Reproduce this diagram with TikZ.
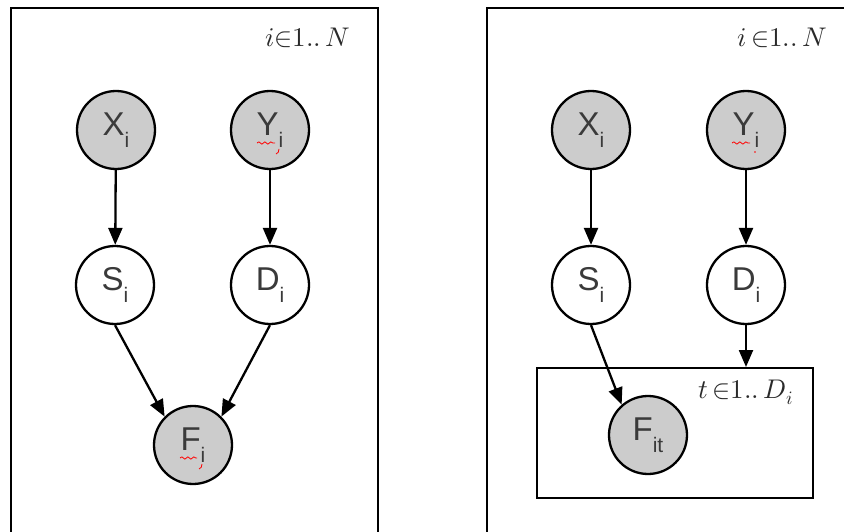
\documentclass[tikz,border=0pt]{standalone}
\usepackage{fontspec}
\usepackage{unicode-math}
\setmainfont{Liberation Sans}
\setmathfont{Latin Modern Math}
\usetikzlibrary{arrows.meta,decorations.pathmorphing}
\definecolor{txt}{HTML}{3A3A3A}
\definecolor{lbl}{HTML}{2A2A2A}
\definecolor{obsfill}{HTML}{CCCCCC}
\newcommand\lowsub[1]{\raisebox{-0.36em}{\fontsize{21}{24}\selectfont #1}}
\begin{document}
\begin{tikzpicture}[x=1pt,y=-1pt,
  var/.style={circle, draw=black, line width=2.3pt, minimum size=78pt, inner sep=0pt, text=txt, font=\fontsize{33}{40}\selectfont},
  obs/.style={var, fill=obsfill},
  lat/.style={var, fill=white},
  plate/.style={draw=black, line width=2.3pt},
  edge/.style={line width=2.3pt, -{Triangle[length=17pt,width=14pt]}},
  platelabel/.style={text=lbl, font=\fontsize{27}{32}\selectfont, anchor=base},
  wave/.style={red, line width=0.8pt, decorate, decoration={snake, amplitude=1.1pt, segment length=6pt}},
  redmark/.style={red, line width=0.8pt}
]
\useasboundingbox (0,0) rectangle (844,532);
\clip (0,0) rectangle (844,532);
\fill[white] (0,0) rectangle (844,532);

% outer plates
\draw[plate] (11,8) rectangle (378,545);
\draw[plate] (487,8) rectangle (860,545);
\node[platelabel] (lblL) at (308,47) {$i{\in}1..\,N$};
\node[platelabel] (lblR) at (782,47) {$i\,{\in}1..\,N$};

% left model
\node[obs] (XL) at (116,130) {X\lowsub{i}};
\node[obs] (YL) at (270,130) {Y\lowsub{i}};
\node[lat] (SL) at (115,285) {S\lowsub{i}};
\node[lat] (DL) at (270,285) {D\lowsub{i}};
\node[obs] (FL) at (193,445) {F\lowsub{i}};
\draw[edge] (XL) -- (SL);
\draw[edge] (YL) -- (DL);
\draw[edge] (SL.south) -- (FL.135);
\draw[edge] (DL.south) -- (FL.45);

% right model
\node[plate, minimum width=276pt, minimum height=130pt, inner sep=0pt, anchor=north west] (tplate) at (536,367) {};
\node[platelabel] (lblT) at (746,398) {$t\,{\in}1..\,D_i$};
\node[obs] (XR) at (591,130) {X\lowsub{i}};
\node[obs] (YR) at (746,130) {Y\lowsub{i}};
\node[lat] (SR) at (591,285) {S\lowsub{i}};
\node[lat] (DR) at (746,285) {D\lowsub{i}};
\node[obs] (FR) at (648,435) {F\lowsub{it}};
\draw[edge] (XR) -- (SR);
\draw[edge] (YR) -- (DR);
\draw[edge] (SR.south) -- (FR.131);
\draw[edge] (DR.south) -- (DR.south |- tplate.north);

% spell-check underlines
\draw[wave] (257,143) -- (275,143);
\draw[redmark] (279,149) .. controls (279,152) and (278,153) .. (276,154);
\draw[wave] (180,458) -- (197,458);
\draw[redmark] (202,464) .. controls (202,467) and (201,468) .. (199,469);
\draw[wave] (732,143) -- (750,143);
\fill[red] (755,152) circle (0.8pt);
\end{tikzpicture}
\end{document}
